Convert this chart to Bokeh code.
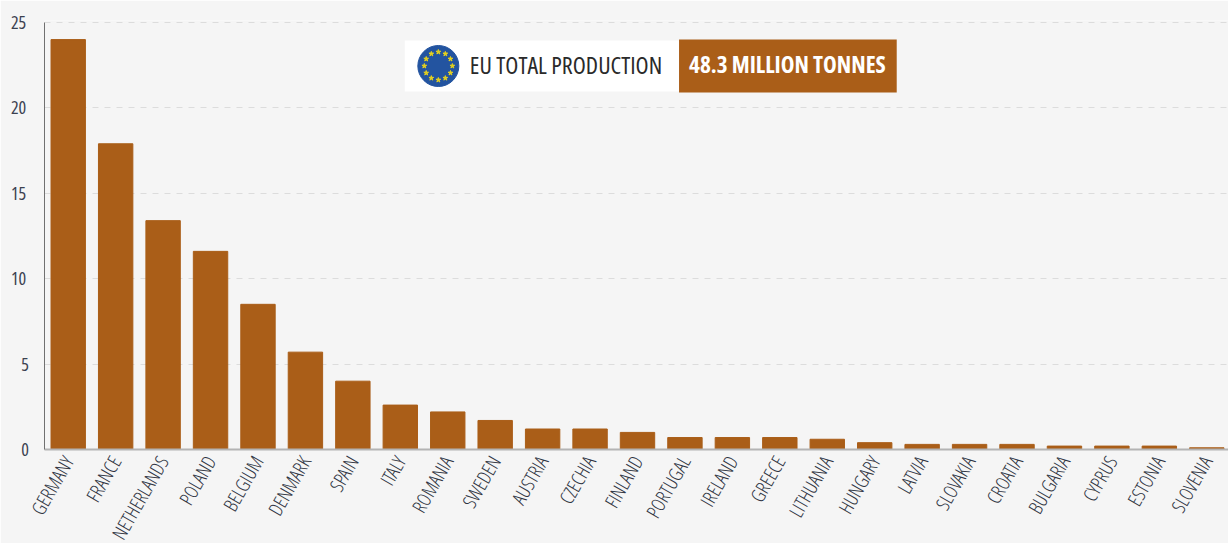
import math
from bokeh.plotting import figure
from bokeh.models import Range1d, FixedTicker, BoxAnnotation, Label
from bokeh.embed import file_html
from bokeh.resources import INLINE

countries = ["GERMANY", "FRANCE", "NETHERLANDS", "POLAND", "BELGIUM", "DENMARK", "SPAIN", "ITALY",
             "ROMANIA", "SWEDEN", "AUSTRIA", "CZECHIA", "FINLAND", "PORTUGAL", "IRELAND", "GREECE",
             "LITHUANIA", "HUNGARY", "LATVIA", "SLOVAKIA", "CROATIA", "BULGARIA", "CYPRUS", "ESTONIA", "SLOVENIA"]
production = [24.0, 17.9, 13.4, 11.6, 8.5, 5.7, 4.0, 2.6, 2.2, 1.7, 1.2, 1.2, 1.0,
              0.7, 0.7, 0.7, 0.6, 0.4, 0.3, 0.3, 0.3, 0.2, 0.2, 0.2, 0.1]
y_ticks = [0, 5, 10, 15, 20, 25]
callout_left = "EU TOTAL PRODUCTION"
callout_right = "48.3 MILLION TONNES"

BROWN = "#aa5e18"
BG = "#f5f5f5"
TXT = "#3b4150"
FONT = "Open Sans"
X_FONT = "Open Sans Condensed Light, Open Sans Condensed"

L, T, B = 45, 20, 449
STEP = 47.4
PX_PER_UNIT = 17.08
W, H = 1228, 543

p = figure(width=W, height=H, output_backend="svg", toolbar_location=None,
           frame_height=B - T, frame_width=W - L + 1,
           x_range=Range1d(-0.5, -0.5 + (W - L) / STEP), y_range=Range1d(0, (B - T) / PX_PER_UNIT),
           min_border_left=L - 1, min_border_right=0, min_border_top=T, min_border_bottom=H - B,
           background_fill_color=BG, border_fill_color=BG, outline_line_color=None)
p.styles = {"position": "absolute", "left": "0", "top": "0", "font-stretch": "75%"}

xs = list(range(len(countries)))
p.vbar(x=xs, top=production, width=0.725, bottom=0, color=BROWN)

p.xgrid.visible = False
p.ygrid.grid_line_color = "#dcdcdc"
p.ygrid.grid_line_dash = "6 6"
p.ygrid.grid_line_width = 1
p.ygrid.ticker = FixedTicker(ticks=y_ticks)

p.yaxis.ticker = FixedTicker(ticks=y_ticks)
p.yaxis.bounds = (0, 25)
p.yaxis.major_tick_line_color = None
p.yaxis.minor_tick_line_color = None
p.yaxis.axis_line_color = "#707070"
p.yaxis.axis_line_width = 1
p.yaxis.major_label_text_font = FONT
p.yaxis.major_label_text_font_size = "18px"
p.yaxis.major_label_text_color = TXT
p.yaxis.major_label_standoff = 7

p.xaxis.ticker = FixedTicker(ticks=xs)
p.xaxis.major_label_overrides = dict(zip(xs, countries))
p.xaxis.major_tick_line_color = None
p.xaxis.minor_tick_line_color = None
p.xaxis.major_tick_out = 0
p.xaxis.major_tick_in = 0
p.xaxis.axis_line_color = "#b4b4b4"
p.xaxis.axis_line_width = 2
p.xaxis.major_label_text_font = X_FONT
p.xaxis.major_label_text_font_size = "19.5px"
p.xaxis.major_label_text_color = "#2f3442"
p.xaxis.major_label_orientation = math.radians(60)
p.xaxis.major_label_standoff = 8

def dx(px):
    return (px - L) / STEP - 0.5

def dy(py):
    return (B - py) / PX_PER_UNIT

p.add_layout(BoxAnnotation(left=dx(405), right=dx(679), top=dy(40), bottom=dy(91),
                           fill_color="white", fill_alpha=1, line_color=None))
p.add_layout(BoxAnnotation(left=dx(679), right=dx(896.5), top=dy(39), bottom=dy(92),
                           fill_color=BROWN, fill_alpha=1, line_color=None))

cx, cy = 438.5, 65.5
p.scatter([dx(cx)], [dy(cy)], size=41, marker="circle", color="#2354a0", level="overlay")
star_x = [dx(cx + 14 * math.sin(i * math.pi / 6)) for i in range(12)]
star_y = [dy(cy - 14 * math.cos(i * math.pi / 6)) for i in range(12)]
p.scatter(star_x, star_y, size=5, marker="star", color="#e6d21e", level="overlay")

p.add_layout(Label(x=dx(470), y=dy(64), text=callout_left, text_font=FONT, text_font_size="24px",
                   text_color="#2a2a2a", text_baseline="middle", text_align="left"))
p.add_layout(Label(x=dx(689), y=dy(63.5), text=callout_right, text_font=FONT, text_font_size="23.2px",
                   text_font_style="bold", text_color="white", text_baseline="middle", text_align="left"))

open("out.html", "w").write(file_html(p, INLINE))
